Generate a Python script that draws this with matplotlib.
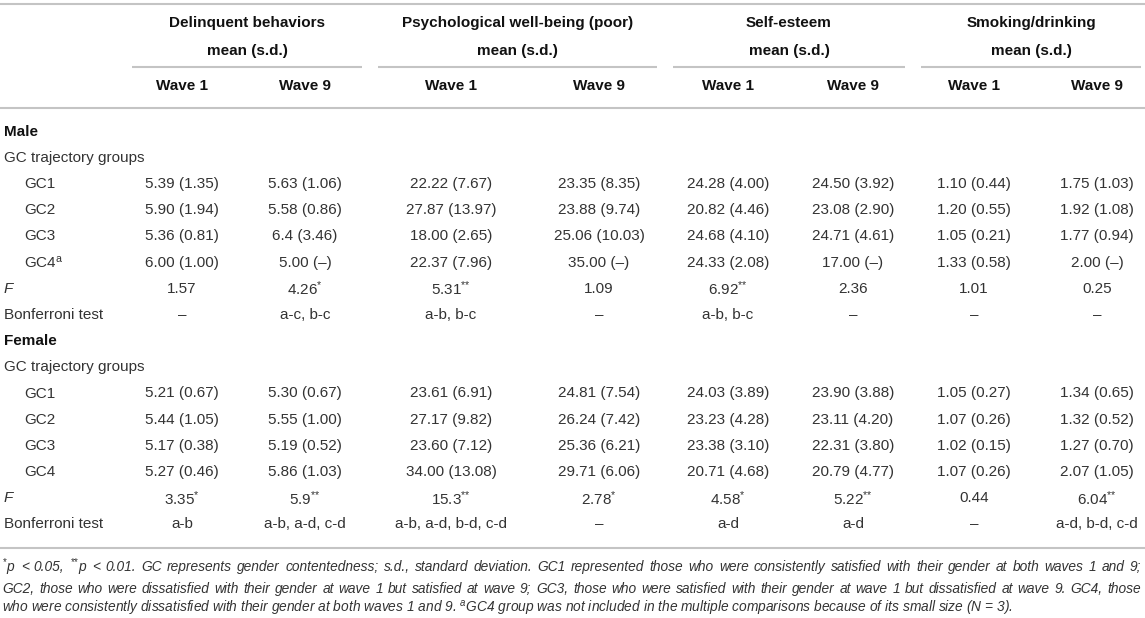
import re
import matplotlib
matplotlib.use("Agg")
import matplotlib.pyplot as plt

plt.rcParams['font.family'] = ['Liberation Sans', 'DejaVu Sans']
plt.rcParams['mathtext.fontset'] = 'custom'
plt.rcParams['mathtext.rm'] = 'Liberation Sans'
plt.rcParams['mathtext.it'] = 'Liberation Sans:italic'
plt.rcParams['mathtext.bf'] = 'Liberation Sans:bold'

# ---------------- data ----------------
outcomes = ["Delinquent behaviors", "Psychological well-being (poor)", "Self-esteem", "Smoking/drinking"]
subheader = "mean (s.d.)"
waves = ["Wave 1", "Wave 9"]
group_label = "GC trajectory groups"
groups = ["GC1", "GC2", "GC3", "GC4"]

male_gc1 = ["5.39 (1.35)", "5.63 (1.06)", "22.22 (7.67)", "23.35 (8.35)", "24.28 (4.00)", "24.50 (3.92)", "1.10 (0.44)", "1.75 (1.03)"]
male_gc2 = ["5.90 (1.94)", "5.58 (0.86)", "27.87 (13.97)", "23.88 (9.74)", "20.82 (4.46)", "23.08 (2.90)", "1.20 (0.55)", "1.92 (1.08)"]
male_gc3 = ["5.36 (0.81)", "6.4 (3.46)", "18.00 (2.65)", "25.06 (10.03)", "24.68 (4.10)", "24.71 (4.61)", "1.05 (0.21)", "1.77 (0.94)"]
male_gc4 = ["6.00 (1.00)", "5.00 (–)", "22.37 (7.96)", "35.00 (–)", "24.33 (2.08)", "17.00 (–)", "1.33 (0.58)", "2.00 (–)"]
male_F = ["1.57", "4.26*", "5.31**", "1.09", "6.92**", "2.36", "1.01", "0.25"]
male_bonf = ["–", "a-c, b-c", "a-b, b-c", "–", "a-b, b-c", "–", "–", "–"]

female_gc1 = ["5.21 (0.67)", "5.30 (0.67)", "23.61 (6.91)", "24.81 (7.54)", "24.03 (3.89)", "23.90 (3.88)", "1.05 (0.27)", "1.34 (0.65)"]
female_gc2 = ["5.44 (1.05)", "5.55 (1.00)", "27.17 (9.82)", "26.24 (7.42)", "23.23 (4.28)", "23.11 (4.20)", "1.07 (0.26)", "1.32 (0.52)"]
female_gc3 = ["5.17 (0.38)", "5.19 (0.52)", "23.60 (7.12)", "25.36 (6.21)", "23.38 (3.10)", "22.31 (3.80)", "1.02 (0.15)", "1.27 (0.70)"]
female_gc4 = ["5.27 (0.46)", "5.86 (1.03)", "34.00 (13.08)", "29.71 (6.06)", "20.71 (4.68)", "20.79 (4.77)", "1.07 (0.26)", "2.07 (1.05)"]
female_F = ["3.35*", "5.9**", "15.3**", "2.78*", "4.58*", "5.22**", "0.44", "6.04**"]
female_bonf = ["a-b", "a-b, a-d, c-d", "a-b, a-d, b-d, c-d", "–", "a-d", "a-d", "–", "a-d, b-d, c-d"]

footnote_lines = [
    "$^{*}$p < 0.05, $^{{*}{*}}$p < 0.01. GC represents gender contentedness; s.d., standard deviation. GC1 represented those who were consistently satisfied with their gender at both waves 1 and 9;",
    "GC2, those who were dissatisfied with their gender at wave 1 but satisfied at wave 9; GC3, those who were satisfied with their gender at wave 1 but dissatisfied at wave 9. GC4, those",
    "who were consistently dissatisfied with their gender at both waves 1 and 9. $^{a}$GC4 group was not included in the multiple comparisons because of its small size (N = 3).",
]

# ---------------- layout ----------------
W, H = 1145, 618
fig = plt.figure(figsize=(W / 100, H / 100), dpi=100)
ax = fig.add_axes([0, 0, 1, 1])
ax.set_xlim(0, W)
ax.set_ylim(H, 0)
ax.axis('off')

FS = 11.0
BODY = '#333333'
HEAD = '#111111'
LINEC = '#c4c4c4'
LW = 1.5

col_x = [182, 305, 451, 599, 728, 853, 974, 1097]
grp_span = [(132, 362), (378, 657), (673, 905), (921, 1141)]
left_x = 4
indent_x = 24


def star(s):
    m = re.match(r'^(.*?)(\*+)$', s)
    if m:
        return m.group(1) + r'$^{' + ''.join('{*}' for _ in m.group(2)) + r'}$'
    return s


def hline(y, x0=0, x1=W):
    ax.plot([x0, x1], [y, y], color=LINEC, lw=LW, solid_capstyle='butt')


# header
hline(4)
for (x0, x1), name in zip(grp_span, outcomes):
    xc = (x0 + x1) / 2
    ax.text(xc, 23, name, ha='center', va='center', fontsize=FS, fontweight='bold', color=HEAD)
    ax.text(xc, 51, subheader, ha='center', va='center', fontsize=FS, fontweight='bold', color=HEAD)
    hline(67, x0, x1)
for i, x in enumerate(col_x):
    ax.text(x, 86, waves[i % 2], ha='center', va='center', fontsize=FS, fontweight='bold', color=HEAD)
hline(108)

# body rows
y0, dy = 131.5, 26.2
rows = [
    ("Male", None, 'sec'), (group_label, None, 'plain'),
    ("GC1", male_gc1, 'ind'), ("GC2", male_gc2, 'ind'), ("GC3", male_gc3, 'ind'),
    ("GC4$^{\\mathrm{a}}$", male_gc4, 'ind'),
    ("F", male_F, 'F'), ("Bonferroni test", male_bonf, 'plain'),
    ("Female", None, 'sec'), (group_label, None, 'plain'),
    ("GC1", female_gc1, 'ind'), ("GC2", female_gc2, 'ind'), ("GC3", female_gc3, 'ind'),
    ("GC4", female_gc4, 'ind'),
    ("F", female_F, 'F'), ("Bonferroni test", female_bonf, 'plain'),
]
for i, (label, vals, kind) in enumerate(rows):
    y = y0 + dy * i
    if kind == 'sec':
        ax.text(left_x, y, label, ha='left', va='center', fontsize=FS, fontweight='bold', color=HEAD)
    elif kind == 'ind':
        ax.text(indent_x, y, label, ha='left', va='center', fontsize=FS, color=BODY)
    elif kind == 'F':
        ax.text(left_x, y, label, ha='left', va='center', fontsize=FS, fontstyle='italic', color=BODY)
    else:
        ax.text(left_x, y, label, ha='left', va='center', fontsize=FS, color=BODY)
    if vals is not None:
        for x, v in zip(col_x, vals):
            ax.text(x, y, star(v), ha='center', va='center', fontsize=FS, color=BODY)

hline(548)

# footnote (justified)
FFS = 9.9
renderer = fig.canvas.get_renderer()
foot_y = [567, 589, 609]
fx0, fx1 = 2, 1141
for li, (line, y) in enumerate(zip(footnote_lines, foot_y)):
    if li == len(footnote_lines) - 1:
        ax.text(fx0, y, line, ha='left', va='center', fontsize=FFS, fontstyle='italic', color=BODY)
        continue
    words = line.split(' ')
    texts = [ax.text(0, y, w, ha='left', va='center', fontsize=FFS, fontstyle='italic', color=BODY)
             for w in words]
    widths = [t.get_window_extent(renderer=renderer).width for t in texts]
    gap = (fx1 - fx0 - sum(widths)) / (len(words) - 1)
    x = fx0
    for t, w in zip(texts, widths):
        t.set_x(x)
        x += w + gap

fig.savefig('out.png', dpi=100)
